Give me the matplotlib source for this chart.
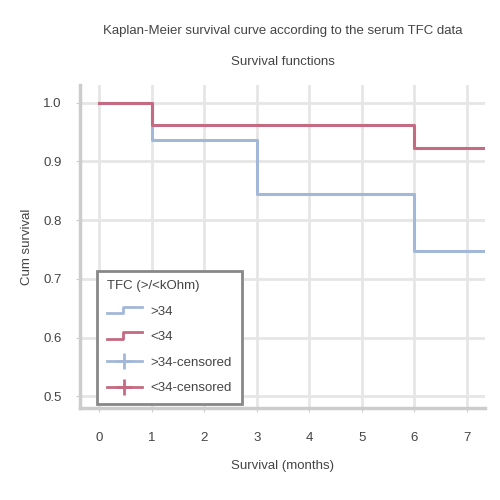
import matplotlib
matplotlib.use('Agg')
import matplotlib.pyplot as plt
from matplotlib.lines import Line2D
from matplotlib.legend_handler import HandlerBase

plt.rcParams['font.family'] = ['Liberation Sans', 'DejaVu Sans']

# Kaplan-Meier step data (time in months, cumulative survival)
times_hi = [0, 1, 3, 6, 7.4]
surv_hi = [1.0, 0.937, 0.845, 0.748, 0.748]
times_lo = [0, 1, 6, 7.4]
surv_lo = [1.0, 0.962, 0.922, 0.922]

x_ticks = [0, 1, 2, 3, 4, 5, 6, 7]
y_ticks = [0.5, 0.6, 0.7, 0.8, 0.9, 1.0]
labels = ['>34', '<34', '>34-censored', '<34-censored']

c_hi = '#a3b8d8'
c_lo = '#c46a82'
text_c = '#444444'


class StepHandler(HandlerBase):
    def create_artists(self, legend, orig, xd, yd, w, h, fontsize, trans):
        xs = [xd, xd + w * 0.45, xd + w * 0.45, xd + w]
        ys = [yd + h * 0.15, yd + h * 0.15, yd + h * 0.85, yd + h * 0.85]
        ln = Line2D(xs, ys, color=orig.get_color(), lw=2, transform=trans)
        return [ln]


fig = plt.figure(figsize=(5, 5), dpi=100)
ax = fig.add_axes([0.16, 0.184, 0.81, 0.646])

ax.step(times_hi, surv_hi, where='post', color=c_hi, lw=2.2)
ax.step(times_lo, surv_lo, where='post', color=c_lo, lw=2.2)

ax.set_xlim(-0.37, 7.35)
ax.set_ylim(0.48, 1.03)
ax.set_xticks(x_ticks)
ax.set_yticks(y_ticks)
ax.set_yticklabels([f'{v:.1f}' for v in y_ticks])
ax.grid(True, color='#e6e6e6', lw=2)
ax.set_axisbelow(True)
for s in ['top', 'right']:
    ax.spines[s].set_visible(False)
for s in ['left', 'bottom']:
    ax.spines[s].set_color('#cccccc')
    ax.spines[s].set_linewidth(2.5)
ax.tick_params(colors=text_c, labelsize=9.5, length=3, color='#cccccc')
ax.tick_params(axis='x', pad=14)
ax.tick_params(axis='y', pad=10)

ax.set_xlabel('Survival (months)', color=text_c, fontsize=9.5, labelpad=12)
ax.set_ylabel('Cum survival', color=text_c, fontsize=9.5)
ax.yaxis.set_label_coords(-0.115, 0.5)
fig.text(0.565, 0.938, 'Kaplan-Meier survival curve according to the serum TFC data',
         ha='center', va='center', color=text_c, fontsize=9.5)
fig.text(0.565, 0.876, 'Survival functions', ha='center', va='center',
         color=text_c, fontsize=9.5)

h_hi = Line2D([], [], color=c_hi)
h_lo = Line2D([], [], color=c_lo)
h_hi_c = Line2D([], [], color=c_hi, lw=2, marker='+', markersize=12, markeredgewidth=2)
h_lo_c = Line2D([], [], color=c_lo, lw=2, marker='+', markersize=12, markeredgewidth=2)
leg = ax.legend([h_hi, h_lo, h_hi_c, h_lo_c], labels, title='TFC (>/<kOhm)',
                loc='lower left', bbox_to_anchor=(0.033, 0.0), fontsize=9.5,
                title_fontsize=9.5, alignment='left', fancybox=False,
                handler_map={h_hi: StepHandler(), h_lo: StepHandler()},
                handlelength=2.6, labelspacing=1.0, borderpad=0.75,
                handletextpad=0.7, borderaxespad=0.3)
leg.get_frame().set_edgecolor('#888888')
leg.get_frame().set_linewidth(2)
leg.get_frame().set_alpha(1)
for t in leg.get_texts():
    t.set_color(text_c)
leg.get_title().set_color(text_c)

fig.savefig('out.png', dpi=100)
